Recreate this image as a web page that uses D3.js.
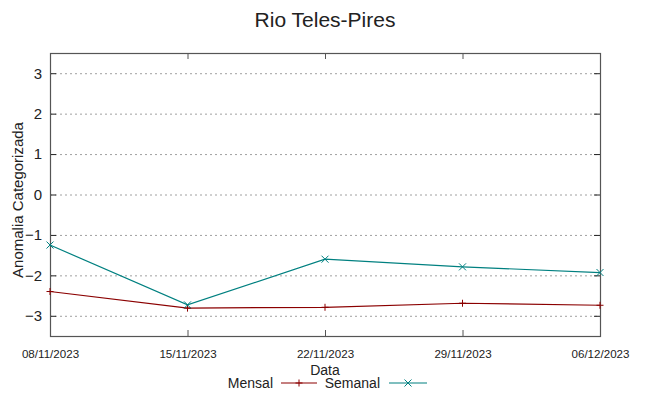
<!DOCTYPE html>
<html>
<head>
<meta charset="utf-8">
<script src="https://cdn.jsdelivr.net/npm/d3@7"></script>
<style>
  body { margin: 0; background: #fff; }
  text { font-family: "Liberation Sans", Arial, sans-serif; fill: #222; }
</style>
</head>
<body>
<div id="chart"></div>
<script>
const dates = ["08/11/2023", "15/11/2023", "22/11/2023", "29/11/2023", "06/12/2023"];
const mensal = [-2.4, -2.81, -2.79, -2.69, -2.74];
const semanal = [-1.25, -2.73, -1.6, -1.79, -1.93];
const yTicks = [-3, -2, -1, 0, 1, 2, 3];

const width = 649, height = 396;
const margin = { top: 53, right: 49, bottom: 60, left: 50 };

const svg = d3.select("#chart").append("svg")
  .attr("width", width)
  .attr("height", height);

const x = d3.scalePoint()
  .domain(dates)
  .range([margin.left, width - margin.right]);

const y = d3.scaleLinear()
  .domain([-3.5, 3.5])
  .range([height - margin.bottom, margin.top]);

// grid
svg.append("g")
  .selectAll("line")
  .data(yTicks)
  .enter().append("line")
  .attr("x1", margin.left).attr("x2", width - margin.right)
  .attr("y1", d => y(d) + 0.5).attr("y2", d => y(d) + 0.5)
  .attr("stroke", "#a0a0a0")
  .attr("stroke-width", 1)
  .attr("stroke-dasharray", "2,3");

// y axis ticks + labels
const yAxis = d3.axisLeft(y).tickValues(yTicks).tickSize(-6).tickPadding(8).tickFormat(d3.format("d"));
svg.append("g")
  .attr("transform", `translate(${margin.left},0)`)
  .call(yAxis)
  .call(g => g.select(".domain").remove())
  .call(g => g.selectAll("text").style("font-size", "15px").attr("fill", "#222"))
  .call(g => g.selectAll("line").attr("stroke", "#222"));

svg.append("g")
  .attr("transform", `translate(${width - margin.right},0)`)
  .call(d3.axisRight(y).tickValues(yTicks).tickSize(-6).tickFormat(""))
  .call(g => g.select(".domain").remove())
  .call(g => g.selectAll("line").attr("stroke", "#222"));

// x axis ticks + labels
svg.append("g")
  .attr("transform", `translate(0,${height - margin.bottom})`)
  .call(d3.axisBottom(x).tickSize(-6).tickPadding(14))
  .call(g => g.select(".domain").remove())
  .call(g => g.selectAll("text").style("font-size", "11.6px").attr("fill", "#222"))
  .call(g => g.selectAll("line").attr("stroke", "#555"));

svg.append("g")
  .attr("transform", `translate(0,${margin.top})`)
  .call(d3.axisTop(x).tickSize(-6).tickFormat(""))
  .call(g => g.select(".domain").remove())
  .call(g => g.selectAll("line").attr("stroke", "#555"));

// border
svg.append("rect")
  .attr("x", margin.left + 0.5)
  .attr("y", margin.top + 0.5)
  .attr("width", width - margin.left - margin.right)
  .attr("height", height - margin.top - margin.bottom)
  .attr("fill", "none")
  .attr("stroke", "#555")
  .attr("stroke-width", 1.2);

// lines
const series = [
  { name: "Mensal", values: mensal, color: "#8b0000", marker: "plus" },
  { name: "Semanal", values: semanal, color: "#008080", marker: "cross" }
];

const line = d3.line()
  .x((d, i) => x(dates[i]))
  .y(d => y(d));

function markerPath(type, cx, cy, r) {
  if (type === "plus") {
    return `M${cx - r},${cy}H${cx + r}M${cx},${cy - r}V${cy + r}`;
  }
  return `M${cx - r},${cy - r}L${cx + r},${cy + r}M${cx - r},${cy + r}L${cx + r},${cy - r}`;
}

series.forEach(s => {
  svg.append("path")
    .datum(s.values)
    .attr("d", line)
    .attr("fill", "none")
    .attr("stroke", s.color)
    .attr("stroke-width", 1.2);

  svg.append("g")
    .selectAll("path")
    .data(s.values)
    .enter().append("path")
    .attr("d", (d, i) => markerPath(s.marker, x(dates[i]), y(d), 3.5))
    .attr("stroke", s.color)
    .attr("stroke-width", 1)
    .attr("fill", "none");
});

// title
svg.append("text")
  .attr("x", 325)
  .attr("y", 27)
  .attr("text-anchor", "middle")
  .style("font-size", "21px")
  .text("Rio Teles-Pires");

// y label
svg.append("text")
  .attr("transform", "translate(23,200) rotate(-90)")
  .attr("text-anchor", "middle")
  .style("font-size", "15px")
  .text("Anomalia Categorizada");

// x label
svg.append("text")
  .attr("x", 325)
  .attr("y", 375)
  .attr("text-anchor", "middle")
  .style("font-size", "14px")
  .text("Data");

// legend
const legendItems = [
  { textEnd: 273, x1: 281, x2: 317 },
  { textEnd: 380, x1: 389, x2: 427 }
];
const ly = 383;
series.forEach((s, i) => {
  const L = legendItems[i];
  svg.append("text")
    .attr("x", L.textEnd)
    .attr("y", ly + 5)
    .attr("text-anchor", "end")
    .style("font-size", "14px")
    .text(s.name);
  svg.append("line")
    .attr("x1", L.x1).attr("x2", L.x2)
    .attr("y1", ly).attr("y2", ly)
    .attr("stroke", s.color)
    .attr("stroke-width", 1.2);
  svg.append("path")
    .attr("d", markerPath(s.marker, (L.x1 + L.x2) / 2, ly, 3.5))
    .attr("stroke", s.color)
    .attr("stroke-width", 1)
    .attr("fill", "none");
});
</script>
</body>
</html>
